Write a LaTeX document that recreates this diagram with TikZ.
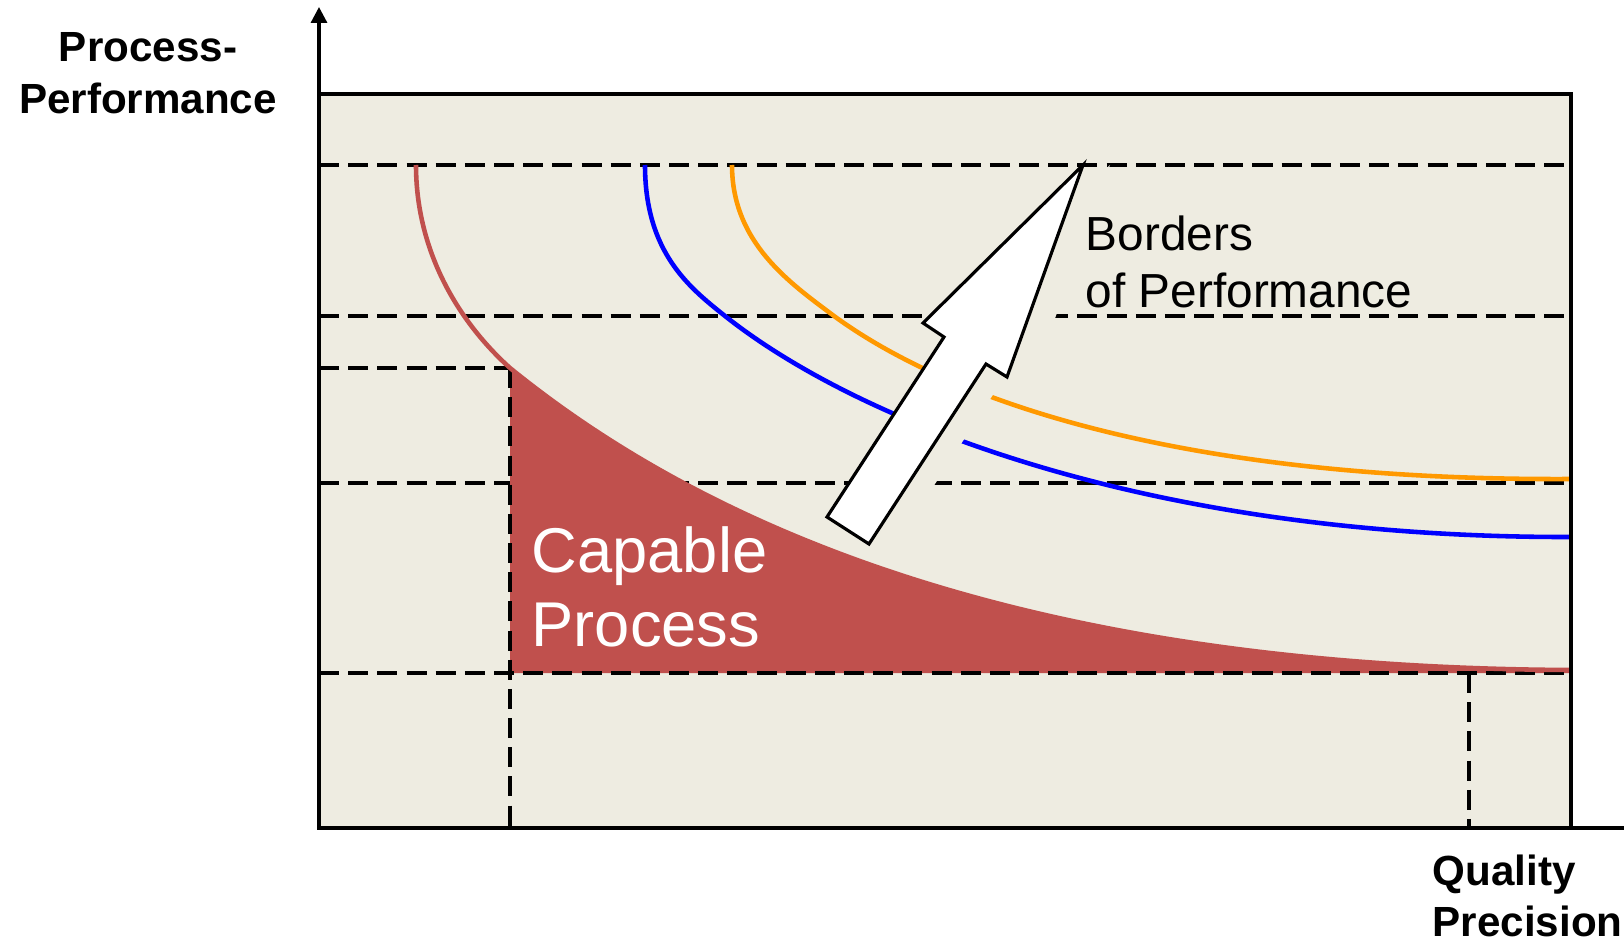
\documentclass[tikz,border=0pt]{standalone}
\usepackage{fontspec}
\setmainfont{Liberation Sans}
\usepackage{tikz}
\usetikzlibrary{arrows.meta}
\definecolor{paper}{HTML}{EEECE1}
\definecolor{capred}{HTML}{C0504D}
\definecolor{bordorange}{HTML}{FF9900}

\begin{document}
\begin{tikzpicture}[dashline/.style={dash pattern=on 5.7pt off 2.6pt, line width=1pt},
  curveline/.style={line width=1.3pt}]
\tikzset{axis/.style = {line width=0.9pt}}
\useasboundingbox (0,0) rectangle (16.24,9.43);
\coordinate (O) at (3.19,1.15);
\coordinate (Y) at (3.19,9.36);
\coordinate (X) at (16.24,1.15);
\coordinate (TR) at (15.71,8.49);
\coordinate (redtop) at (4.16,7.78);
\coordinate (redknee) at (5.10,5.75);
\coordinate (redend) at (15.71,2.73);
\coordinate (bluetop) at (6.45,7.78);
\coordinate (blueknee) at (7.25,6.27);
\coordinate (blueend) at (15.71,4.06);
\coordinate (oratop) at (7.32,7.78);
\coordinate (oraknee) at (8.34,6.27);
\coordinate (oraend) at (15.71,4.64);
\fill[paper] (O) rectangle (TR);
% grid
\draw[dashline] (3.19,7.78) -- (15.71,7.78);
\draw[dashline] (3.19,6.27) -- (15.71,6.27);
\draw[dashline] (3.19,5.75) -- (redknee);
\draw[dashline] (3.19,4.60) -- (15.71,4.60);
% capable area
\fill[capred] (redknee) .. controls (7.5,3.8) and (11.0,2.75) .. (redend) -- (15.71,2.70) -- (5.10,2.70) -- cycle;
\draw[dashline] (redknee) -- (5.10,1.15);
\draw[dashline] (3.19,2.70) -- (15.71,2.70);
\draw[dashline] (14.69,2.70) -- (14.69,1.15);
% borders
\draw[curveline, capred] (redtop) .. controls (4.16,6.9) and (4.6,6.2) .. (redknee) .. controls (7.5,3.8) and (11.0,2.75) .. (redend);
\draw[curveline, blue] (bluetop) .. controls (6.45,6.9) and (6.9,6.55) .. (blueknee) .. controls (8.6,5.2) and (11.5,4.05) .. (blueend);
\draw[curveline, bordorange] (oratop) .. controls (7.32,7.0) and (7.9,6.6) .. (oraknee) .. controls (9.6,5.35) and (12.0,4.62) .. (oraend);
% axes
\draw[axis] (O) rectangle (TR);
\draw[axis, -{Triangle[width=4.5pt, length=4.5pt]}] (O) -- (Y);
\draw[axis] (O) -- (X);
% big arrow
\begin{scope}[xshift=0.27cm]
\fill[paper] (10.83,7.78) -- (10.07,5.66) -- (9.86,5.79) -- (8.69,3.99) -- (8.27,4.26) -- (9.44,6.06) -- (9.23,6.20) -- cycle;
\end{scope}
\filldraw[fill=white, draw=black, line width=0.9pt] (10.83,7.78) -- (10.07,5.66) -- (9.86,5.79) -- (8.69,3.99) -- (8.27,4.26) -- (9.44,6.06) -- (9.23,6.20) -- cycle;
% labels
\node[font=\bfseries\fontsize{12}{14.8}\selectfont, align=center] (ylab) at (1.48,8.70) {Process-\\Performance};
\node[font=\fontsize{13.6}{16.2}\selectfont, align=left, anchor=west, inner sep=0pt] (borders) at (10.85,6.81) {Borders\\of Performance};
\node[font=\fontsize{18}{21.2}\selectfont, align=left, anchor=west, inner sep=0pt, text=white] (capable) at (5.31,3.56) {Capable\\Process};
\node[font=\bfseries\fontsize{12}{14.65}\selectfont, align=left, anchor=west, inner sep=0pt] (xlab) at (14.32,0.47) {Quality\\Precision};
\end{tikzpicture}
\end{document}
